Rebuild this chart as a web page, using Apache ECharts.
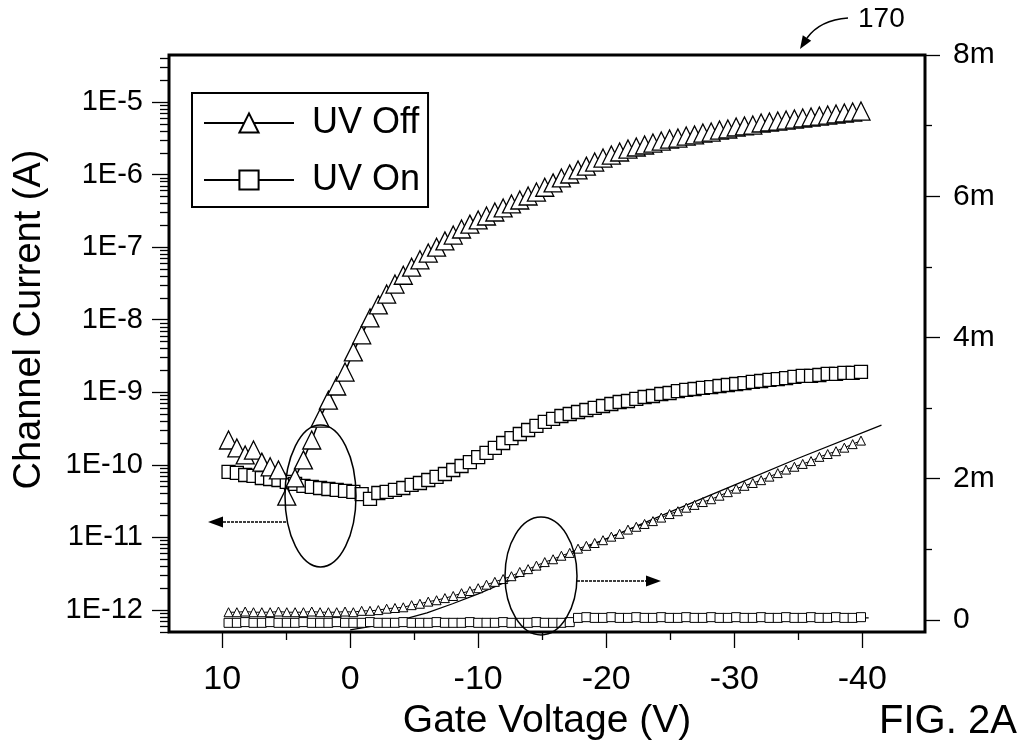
<!DOCTYPE html>
<html><head><meta charset="utf-8">
<script src="https://cdn.jsdelivr.net/npm/echarts@6/dist/echarts.min.js"></script>
<style>html,body{margin:0;padding:0;background:#fff}#c{width:1024px;height:753px}</style>
</head><body><div id="c"></div>
<script>
// Gate voltage (V) of each measured point
const gateVoltage = [9.5, 8.85, 8.2, 7.55, 6.9, 6.25, 5.6, 4.95, 4.3, 3.65,
 3.0, 2.35, 1.7, 1.05, 0.4, -0.25, -0.9, -1.55, -2.2, -2.85,
 -3.5, -4.15, -4.8, -5.45, -6.1, -6.75, -7.4, -8.05, -8.7, -9.35,
 -10.0, -10.65, -11.3, -11.95, -12.6, -13.25, -13.9, -14.55, -15.2, -15.85,
 -16.5, -17.15, -17.8, -18.45, -19.1, -19.75, -20.4, -21.05, -21.7, -22.35,
 -23.0, -23.65, -24.3, -24.95, -25.6, -26.25, -26.9, -27.55, -28.2, -28.85,
 -29.5, -30.15, -30.8, -31.45, -32.1, -32.75, -33.4, -34.05, -34.7, -35.35,
 -36.0, -36.65, -37.3, -37.95, -38.6, -39.25, -39.9];
// Channel current (A), log scale, left axis
const uvOffLog = [2.2e-10, 1.71e-10, 1.37e-10, 1.6e-10, 1.09e-10, 9.4e-11, 8.5e-11, 3.7e-11, 6.6e-11, 1.17e-10,
 2.2e-10, 4.4e-10, 7.8e-10, 1.22e-9, 1.9e-9, 3.6e-9, 6.2e-9, 1.06e-8, 1.6e-8, 2.26e-8,
 3.1e-8, 4.1e-8, 5.3e-8, 6.7e-8, 8.3e-8, 1.0e-7, 1.22e-7, 1.47e-7, 1.78e-7, 2.08e-7,
 2.37e-7, 2.69e-7, 3.05e-7, 3.47e-7, 3.94e-7, 4.47e-7, 5.07e-7, 5.75e-7, 6.7e-7, 7.7e-7,
 9.0e-7, 1.02e-6, 1.16e-6, 1.31e-6, 1.49e-6, 1.69e-6, 1.86e-6, 2.05e-6, 2.25e-6, 2.4e-6,
 2.56e-6, 2.72e-6, 2.9e-6, 3.09e-6, 3.19e-6, 3.4e-6, 3.52e-6, 3.74e-6, 3.86e-6, 4.11e-6,
 4.25e-6, 4.53e-6, 4.68e-6, 4.82e-6, 5.14e-6, 5.31e-6, 5.47e-6, 5.65e-6, 5.83e-6, 6.03e-6,
 6.22e-6, 6.41e-6, 6.62e-6, 6.84e-6, 7.06e-6, 7.28e-6, 7.52e-6];
const uvOnLog = [7.98e-11, 7.73e-11, 7.24e-11, 7.03e-11, 6.59e-11, 6.38e-11, 6.18e-11, 5.81e-11, 5.45e-11, 5.12e-11,
 4.96e-11, 4.8e-11, 4.65e-11, 4.51e-11, 4.37e-11, 4.23e-11, 3.96e-11, 3.39e-11, 4.09e-11, 4.23e-11,
 4.51e-11, 4.8e-11, 5.28e-11, 5.62e-11, 6.18e-11, 6.81e-11, 7.48e-11, 8.49e-11, 9.64e-11, 1.09e-10,
 1.28e-10, 1.46e-10, 1.71e-10, 2.0e-10, 2.34e-10, 2.66e-10, 3.02e-10, 3.44e-10, 3.9e-10, 4.29e-10,
 4.71e-10, 5.02e-10, 5.35e-10, 5.7e-10, 6.08e-10, 6.47e-10, 6.9e-10, 7.35e-10, 7.59e-10, 8.09e-10,
 8.61e-10, 8.89e-10, 9.47e-10, 9.77e-10, 1.04e-9, 1.08e-9, 1.11e-9, 1.15e-9, 1.18e-9, 1.22e-9,
 1.26e-9, 1.3e-9, 1.34e-9, 1.39e-9, 1.43e-9, 1.48e-9, 1.52e-9, 1.57e-9, 1.63e-9, 1.68e-9,
 1.68e-9, 1.73e-9, 1.79e-9, 1.79e-9, 1.85e-9, 1.85e-9, 1.91e-9];
// Channel current (mA), linear scale, right axis
const uvOffLin = [0.11, 0.11, 0.12, 0.11, 0.11, 0.11, 0.12, 0.11, 0.11, 0.11,
 0.12, 0.11, 0.11, 0.11, 0.12, 0.11, 0.13, 0.13, 0.14, 0.16,
 0.17, 0.18, 0.21, 0.23, 0.26, 0.28, 0.31, 0.34, 0.38, 0.41,
 0.45, 0.5, 0.54, 0.58, 0.62, 0.68, 0.72, 0.77, 0.82, 0.86,
 0.91, 0.95, 1.01, 1.05, 1.09, 1.13, 1.18, 1.22, 1.28, 1.32,
 1.36, 1.4, 1.45, 1.5, 1.54, 1.59, 1.63, 1.67, 1.71, 1.76,
 1.81, 1.86, 1.9, 1.94, 1.98, 2.03, 2.08, 2.13, 2.17, 2.21,
 2.25, 2.31, 2.35, 2.39, 2.44, 2.49, 2.54];
const uvOnLin = [-0.04, -0.04, -0.03, -0.04, -0.04, -0.03, -0.04, -0.04, -0.04, -0.03,
 -0.04, -0.04, -0.04, -0.03, -0.04, -0.04, -0.04, -0.03, -0.04, -0.04,
 -0.04, -0.03, -0.04, -0.04, -0.04, -0.03, -0.04, -0.04, -0.04, -0.03,
 -0.04, -0.04, -0.04, -0.03, -0.04, -0.04, -0.04, -0.03, -0.04, -0.04,
 -0.04, -0.03, 0.03, 0.04, 0.03, 0.03, 0.04, 0.03, 0.03, 0.04,
 0.03, 0.03, 0.04, 0.03, 0.03, 0.04, 0.03, 0.03, 0.04, 0.03,
 0.03, 0.04, 0.03, 0.03, 0.04, 0.03, 0.03, 0.04, 0.03, 0.03,
 0.04, 0.03, 0.03, 0.04, 0.03, 0.03, 0.04];
// Fitted lines on the linear scale
const fitOffV = [0, -2, -4, -6, -8, -10, -15, -20, -25, -30, -35, -41.5];
const fitOffI = [-0.14, -0.08, 0.0, 0.1, 0.23, 0.37, 0.76, 1.15, 1.53, 1.91, 2.29, 2.76];
const fitOnV = [-17.5, -40.5];
const fitOnI = [0.03, 0.03];
// Tick labels
const xTickLabels = [10, 0, -10, -20, -30, -40];
const xMinorTicks = [5, -5, -15, -25, -35];
const leftTickLabels = [1e-12, 1e-11, 1e-10, 1e-9, 1e-8, 1e-7, 1e-6, 1e-5];
const rightTickLabels = [0, 2, 4, 6, 8];
const rightMinorTicks = [1, 3, 5, 7];

const LOG_MIN = 4.97e-13, LOG_MAX = 4.45e-5;
const LIN_MIN = -0.17, LIN_MAX = 8;
const leftMinorTicks = [];
for (let e = -13; e <= -5; e++) {
  for (let m = 2; m <= 9; m++) {
    const v = m * Math.pow(10, e);
    if (v > LOG_MIN && v < LOG_MAX) leftMinorTicks.push(v);
  }
}

const FONT = '"Liberation Sans", Arial, Helvetica, sans-serif';
const NARROW = '"Liberation Sans Narrow", "Arial Narrow", "Liberation Sans", sans-serif';
const pairs = (xs, ys) => xs.map((x, i) => [x, ys[i]]);
const tickStyle = { color: '#000', width: 1.3 };
const noLine = { show: false, onZero: false };

function tickOnlyAxis(base, values, len) {
  return Object.assign({}, base, {
    axisLine: noLine, splitLine: { show: false }, axisLabel: { show: false },
    axisTick: { show: true, length: len, lineStyle: tickStyle, customValues: values }
  });
}
const xBase = { type: 'value', inverse: true, min: -44.9, max: 14.15, position: 'bottom' };
const yLogBase = { type: 'log', logBase: 10, min: LOG_MIN, max: LOG_MAX, position: 'left' };
const yLinBase = { type: 'value', min: LIN_MIN, max: LIN_MAX, position: 'right' };

const chart = echarts.init(document.getElementById('c'), null, { renderer: 'canvas' });
chart.setOption({
  animation: false,
  backgroundColor: '#fff',
  grid: { left: 169, right: 99, top: 55, bottom: 121, show: true, borderColor: '#000', borderWidth: 3, backgroundColor: 'transparent' },
  legend: {
    data: ['UV Off', 'UV On'], orient: 'vertical', left: 192, top: 93,
    itemWidth: 90, itemHeight: 24, itemGap: 21, padding: [12, 8, 9, 11],
    borderColor: '#000', borderWidth: 2, backgroundColor: '#fff', selectedMode: false,
    textStyle: { fontSize: 36, fontFamily: FONT, color: '#000', padding: [0, 0, 0, 13] }
  },
  xAxis: [
    Object.assign({}, xBase, {
      axisLine: noLine, splitLine: { show: false }, axisTick: { show: false },
      axisLabel: { customValues: xTickLabels, margin: 31, fontSize: 34, fontFamily: NARROW, color: '#000' },
      name: 'Gate Voltage (V)', nameLocation: 'middle', nameGap: 66,
      nameTextStyle: { fontSize: 39, fontFamily: FONT, color: '#000' } }),
    tickOnlyAxis(xBase, xTickLabels, 16),
    tickOnlyAxis(xBase, xMinorTicks, 8)
  ],
  yAxis: [
    Object.assign({}, yLogBase, {
      axisLine: noLine, splitLine: { show: false }, axisTick: { show: false },
      axisLabel: { customValues: leftTickLabels, margin: 26, fontSize: 29, fontFamily: FONT, color: '#000',
        formatter: v => '1E' + Math.round(Math.log10(v)) },
      name: 'Channel Current (A)', nameLocation: 'middle', nameGap: 120,
      nameTextStyle: { fontSize: 38, fontFamily: FONT, color: '#000', padding: [0, 0, 0, 48] } }),
    Object.assign({}, yLinBase, {
      axisLine: noLine, splitLine: { show: false }, axisTick: { show: false },
      axisLabel: { customValues: rightTickLabels, margin: 28, fontSize: 30, fontFamily: FONT, color: '#000',
        formatter: v => (v === 0 ? '0' : v + 'm') } }),
    tickOnlyAxis(yLogBase, leftTickLabels, 17),
    tickOnlyAxis(yLogBase, leftMinorTicks, 9),
    tickOnlyAxis(yLinBase, rightTickLabels, 15),
    tickOnlyAxis(yLinBase, rightMinorTicks, 7)
  ],
  series: [
    { name: 'fitOff', type: 'line', xAxisIndex: 0, yAxisIndex: 1, data: pairs(fitOffV, fitOffI),
      symbol: 'none', lineStyle: { color: '#000', width: 1.3 }, z: 2, silent: true },
    { name: 'fitOn', type: 'line', xAxisIndex: 0, yAxisIndex: 1, data: pairs(fitOnV, fitOnI),
      symbol: 'none', lineStyle: { color: '#000', width: 1.3 }, z: 2, silent: true },
    { name: 'UV On', type: 'line', xAxisIndex: 0, yAxisIndex: 1, data: pairs(gateVoltage, uvOnLin),
      symbol: 'rect', symbolSize: 9, itemStyle: { color: '#fff', borderColor: '#000', borderWidth: 1 },
      lineStyle: { color: '#000', width: 1 }, z: 3, silent: true },
    { name: 'UV Off', type: 'line', xAxisIndex: 0, yAxisIndex: 1, data: pairs(gateVoltage, uvOffLin),
      symbol: 'triangle', symbolSize: 9, itemStyle: { color: '#fff', borderColor: '#000', borderWidth: 1 },
      lineStyle: { color: '#000', width: 1 }, z: 3, silent: true },
    { name: 'UV On', type: 'line', xAxisIndex: 0, yAxisIndex: 0, data: pairs(gateVoltage, uvOnLog),
      symbol: 'rect', symbolSize: 13, itemStyle: { color: '#fff', borderColor: '#000', borderWidth: 1.3 },
      lineStyle: { color: '#000', width: 1.5 }, z: 4, silent: true },
    { name: 'UV Off', type: 'line', xAxisIndex: 0, yAxisIndex: 0, data: pairs(gateVoltage, uvOffLog),
      symbol: 'triangle', symbolSize: 18, itemStyle: { color: '#fff', borderColor: '#000', borderWidth: 1.3 },
      lineStyle: { color: '#000', width: 1.5 }, z: 4, silent: true }
  ],
  graphic: [
    { type: 'ellipse', shape: { cx: 320.5, cy: 496, rx: 35.5, ry: 71 }, style: { fill: 'none', stroke: '#000', lineWidth: 1.5 }, z: 100 },
    { type: 'line', shape: { x1: 286, y1: 522, x2: 220, y2: 522 }, style: { stroke: '#000', lineWidth: 1.3, lineDash: [3, 1] }, z: 100 },
    { type: 'polygon', shape: { points: [[208, 522], [223, 516.5], [223, 527.5]] }, style: { fill: '#000' }, z: 100 },
    { type: 'ellipse', shape: { cx: 541, cy: 576, rx: 36, ry: 59 }, style: { fill: 'none', stroke: '#000', lineWidth: 1.5 }, z: 100 },
    { type: 'line', shape: { x1: 577, y1: 581, x2: 648, y2: 581 }, style: { stroke: '#000', lineWidth: 1.3, lineDash: [3, 1] }, z: 100 },
    { type: 'polygon', shape: { points: [[661, 581], [646, 575.5], [646, 586.5]] }, style: { fill: '#000' }, z: 100 },
    { type: 'bezierCurve', shape: { x1: 848, y1: 18, cpx1: 820, cpy1: 20, x2: 807, y2: 38 }, style: { stroke: '#000', lineWidth: 1.5, fill: 'none' }, z: 100 },
    { type: 'polygon', shape: { points: [[800, 49], [811.2, 40.7], [802.8, 35.3]] }, style: { fill: '#000' }, z: 100 },
    { type: 'text', style: { x: 858, y: 19, text: '170', font: '28px ' + FONT, fill: '#000', textVerticalAlign: 'middle' }, z: 100 },
    { type: 'text', style: { x: 879, y: 722, text: 'FIG. 2A', font: '40px ' + FONT, fill: '#000', textVerticalAlign: 'middle' }, z: 100 }
  ]
});
</script>
</body></html>
